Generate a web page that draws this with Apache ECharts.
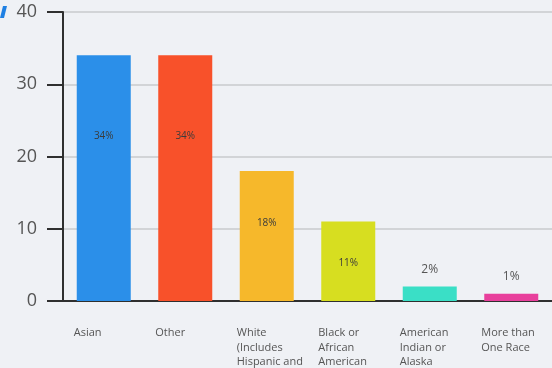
<!DOCTYPE html>
<html>
<head>
<meta charset="utf-8">
<script src="https://cdn.jsdelivr.net/npm/echarts@6/dist/echarts.min.js"></script>
<style>
  html, body { margin: 0; padding: 0; background: #eff1f5; }
  #chart { width: 552px; height: 368px; }
</style>
</head>
<body>
<div id="chart"></div>
<script>
// 图表数据
const categories = [
  'Asian',
  'Other',
  'White\n(Includes\nHispanic and\nLatino)',
  'Black or\nAfrican\nAmerican',
  'American\nIndian or\nAlaska\nNative',
  'More than\nOne Race'
];
const values = [34, 34, 18, 11, 2, 1];
const barColors = ['#2b8fe9', '#f8512a', '#f6b82b', '#d7de20', '#3adfc6', '#e8409c'];
const yTicks = [0, 10, 20, 30, 40];

// 标签位置：大柱子放在里面，小柱子放在上面
const insideTop = [0.33, 0.33, 0.40, 0.53, null, null];

const chart = echarts.init(document.getElementById('chart'));

const seriesData = values.map((v, i) => {
  const pos = insideTop[i];
  return {
    value: v,
    itemStyle: { color: barColors[i] },
    label: pos !== null ? {
      position: ['50%', (pos * 100) + '%'],
      align: 'center',
      verticalAlign: 'middle',
      fontSize: 10,
      color: '#3b3b3b'
    } : {
      position: 'top',
      distance: 11,
      fontSize: 12,
      color: '#555'
    }
  };
});

chart.setOption({
  backgroundColor: '#eff1f5',
  animation: false,
  graphic: [{
    type: 'polygon',
    shape: { points: [[0, 18], [3, 6], [7, 6], [4, 18]] },
    style: { fill: '#1f80e3' }
  }],
  grid: { left: 63, right: 0, top: 12, bottom: 67, outerBoundsMode: 'none' },
  xAxis: {
    type: 'category',
    data: categories,
    axisLine: { lineStyle: { color: '#2f2f2f', width: 2 } },
    axisTick: {
      alignWithLabel: true,
      length: 15,
      lineStyle: { color: '#2f2f2f', width: 2 }
    },
    axisLabel: {
      margin: 25,
      interval: 0,
      formatter: (val) => val.split('\n').map(s => '{a|' + s + '}').join('\n'),
      rich: {
        a: { width: 60, align: 'left', fontSize: 11, lineHeight: 14.5, color: '#555', fontFamily: 'Open Sans' }
      }
    }
  },
  yAxis: {
    type: 'value',
    min: yTicks[0],
    max: yTicks[yTicks.length - 1],
    interval: 10,
    axisLine: { show: true, lineStyle: { color: '#2f2f2f', width: 2 } },
    axisTick: { show: true, length: 16, lineStyle: { color: '#2f2f2f', width: 2 } },
    axisLabel: { margin: 26, fontSize: 18, color: '#555', fontFamily: 'Open Sans' },
    splitLine: { lineStyle: { color: '#c9cacd', width: 1.5 } }
  },
  series: [{
    type: 'bar',
    barWidth: 54,
    data: seriesData,
    label: {
      show: true,
      formatter: '{c}%',
      fontFamily: 'Open Sans'
    }
  }]
});
</script>
</body>
</html>
